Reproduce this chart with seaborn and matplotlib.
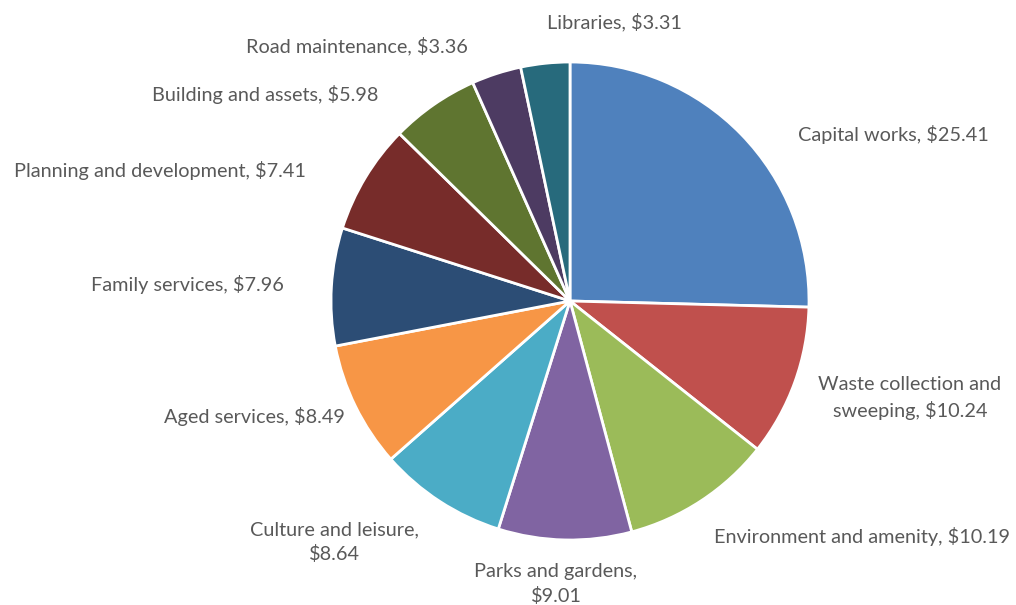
import matplotlib
matplotlib.use("Agg")
import matplotlib.pyplot as plt
import seaborn as sns

# Spending per $100 of rates
categories = [
    "Capital works", "Waste collection and\nsweeping", "Environment and amenity",
    "Parks and gardens,\n", "Culture and leisure,\n", "Aged services",
    "Family services", "Planning and development", "Building and assets",
    "Road maintenance", "Libraries",
]
values = [25.41, 10.24, 10.19, 9.01, 8.64, 8.49, 7.96, 7.41, 5.98, 3.36, 3.31]
colors = ["#4F81BD", "#C0504D", "#9BBB59", "#8064A2", "#4BACC6", "#F79646",
          "#2C4D75", "#772C2A", "#5F7530", "#4D3B62", "#276A7C"]

# Label anchor points, pixels from the top-left corner
label_pos = [
    (893, 135), (910, 398), (862, 536), (556, 584), (334, 542), (254, 416),
    (187, 285), (160, 170), (265, 95), (357, 46), (614, 22),
]

sns.set_theme(style="white")
plt.rcParams["font.family"] = ["Lato", "DejaVu Sans"]

W, H = 1016, 605
cx, cy, r = 570, 301, 239
fig = plt.figure(figsize=(W / 100, H / 100), dpi=100)
ax = fig.add_axes([0, 0, 1, 1])

ax.pie(
    values, colors=colors, startangle=90, counterclock=False,
    center=(cx, H - cy), radius=r,
    wedgeprops=dict(edgecolor="white", linewidth=2),
)
ax.set_xlim(0, W)
ax.set_ylim(0, H)
ax.set_aspect("equal")
ax.axis("off")

for name, val, (x, y) in zip(categories, values, label_pos):
    if name.endswith("\n"):
        text = f"{name}${val:.2f}"
    else:
        text = f"{name}, ${val:.2f}"
    ax.text(x, H - y, text, ha="center", va="center", fontsize=14.3,
            color="#595959", linespacing=1.45, multialignment="center")

fig.savefig("out.png", dpi=100)
